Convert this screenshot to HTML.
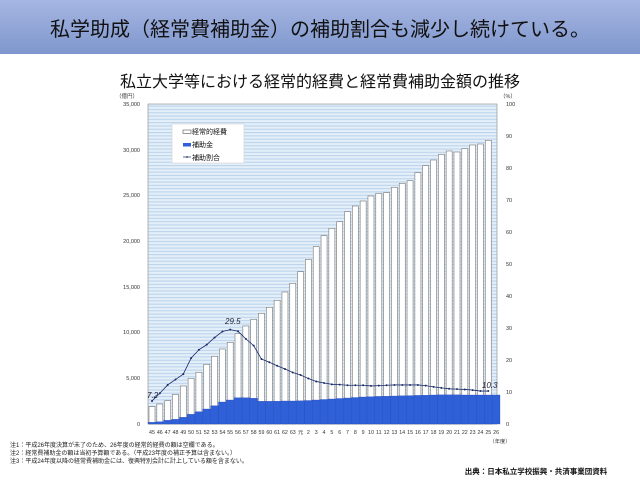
<!DOCTYPE html>
<html><head><meta charset="utf-8"><style>
html,body{margin:0;padding:0;background:#fff;width:640px;height:480px;overflow:hidden}
body{font-family:"Liberation Sans","Noto Sans CJK JP",sans-serif}
</style></head><body>
<svg id="s" width="640" height="480" xmlns="http://www.w3.org/2000/svg" font-family="Liberation Sans, Noto Sans CJK JP, sans-serif">
<defs>
<linearGradient id="hg" x1="0" y1="0" x2="0" y2="1"><stop offset="0" stop-color="#a6b6e2"/><stop offset="1" stop-color="#7f97cd"/></linearGradient>
<pattern id="st" width="10" height="3.3" patternUnits="userSpaceOnUse"><rect width="10" height="3.3" fill="#e4eff9"/><rect y="0" width="10" height="1.1" fill="#bcd4ec"/></pattern>
</defs>
<rect x="0" y="0" width="640" height="54" fill="url(#hg)"/>
<text x="320" y="36" font-size="20" text-anchor="middle" fill="#111">私学助成（経常費補助金）の補助割合も減少し続けている。</text>
<text x="320" y="87" font-size="16" text-anchor="middle" fill="#111">私立大学等における経常的経費と経常費補助金額の推移</text>
<rect x="148" y="104" width="349" height="320" fill="url(#st)" stroke="#888" stroke-width="0.6"/>
<g id="bars"></g>
<g font-size="5.5" fill="#333" text-anchor="end">
<text x="140" y="106">35,000</text><text x="140" y="152">30,000</text><text x="140" y="197">25,000</text><text x="140" y="243">20,000</text><text x="140" y="289">15,000</text><text x="140" y="334">10,000</text><text x="140" y="380">5,000</text><text x="140" y="426">0</text>
<text x="138" y="98">（億円）</text>
</g>
<g font-size="5.5" fill="#333">
<text x="506" y="106">100</text><text x="506" y="138">90</text><text x="506" y="170">80</text><text x="506" y="202">70</text><text x="506" y="234">60</text><text x="506" y="266">50</text><text x="506" y="298">40</text><text x="506" y="330">30</text><text x="506" y="362">20</text><text x="506" y="394">10</text><text x="506" y="426">0</text>
<text x="500" y="98">（%）</text>
</g>
<g font-size="5.3" fill="#333" text-anchor="middle">
<text x="152" y="434">45</text><text x="159.8" y="434">46</text><text x="167.6" y="434">47</text><text x="175.5" y="434">48</text><text x="183.3" y="434">49</text><text x="191.1" y="434">50</text><text x="198.9" y="434">51</text><text x="206.7" y="434">52</text><text x="214.6" y="434">53</text><text x="222.4" y="434">54</text><text x="230.2" y="434">55</text><text x="238" y="434">56</text><text x="245.8" y="434">57</text><text x="253.7" y="434">58</text><text x="261.5" y="434">59</text><text x="269.3" y="434">60</text><text x="277.1" y="434">61</text><text x="284.9" y="434">62</text><text x="292.8" y="434">63</text><text x="300.6" y="434">元</text><text x="308.4" y="434">2</text><text x="316.2" y="434">3</text><text x="324" y="434">4</text><text x="331.9" y="434">5</text><text x="339.7" y="434">6</text><text x="347.5" y="434">7</text><text x="355.3" y="434">8</text><text x="363.1" y="434">9</text><text x="371" y="434">10</text><text x="378.8" y="434">11</text><text x="386.6" y="434">12</text><text x="394.4" y="434">13</text><text x="402.2" y="434">14</text><text x="410.1" y="434">15</text><text x="417.9" y="434">16</text><text x="425.7" y="434">17</text><text x="433.5" y="434">18</text><text x="441.3" y="434">19</text><text x="449.2" y="434">20</text><text x="457" y="434">21</text><text x="464.8" y="434">22</text><text x="472.6" y="434">23</text><text x="480.4" y="434">24</text><text x="488.3" y="434">25</text><text x="496.1" y="434">26</text>
<text x="500" y="443">（年度）</text>
</g>
<g font-size="8" fill="#223" font-style="italic">
<text x="147" y="398">7.2</text><text x="225" y="324">29.5</text><text x="482" y="388">10.3</text>
</g>
<rect x="172" y="124" width="72" height="39" fill="#fff" stroke="#ccc" stroke-width="0.5"/>
<rect x="183" y="130" width="8" height="3.5" fill="#fff" stroke="#555" stroke-width="0.6"/>
<rect x="183" y="143" width="8" height="3.5" fill="#3060d8"/>
<line x1="183" y1="157" x2="191" y2="157" stroke="#1a2b6a" stroke-width="0.7"/><circle cx="187" cy="157" r="0.9" fill="#1a2b6a"/>
<g font-size="7" fill="#111"><text x="192" y="134">経常的経費</text><text x="192" y="147">補助金</text><text x="192" y="160">補助割合</text></g>
<g font-size="6" fill="#222">
<text x="10" y="447">注1：平成26年度決算が未了のため、26年度の経常的経費の額は空欄である。</text>
<text x="10" y="455">注2：経常費補助金の額は当初予算額である。（平成23年度の補正予算は含まない。）</text>
<text x="10" y="463">注3：平成24年度以降の経常費補助金には、復興特別会計に計上している額を含まない。</text>
</g>
<text x="536" y="474" font-size="7.5" font-weight="bold" fill="#111" text-anchor="middle">出典：日本私立学校振興・共済事業団資料</text>
</svg>
<script>
var tops=[406.7,404,400.7,394.3,386,378.3,372.3,364.3,356.3,349,342.3,333.7,326,319.3,313.3,307.3,300.3,292,283.3,271.7,259.3,246.7,235.7,228.3,221.7,211.7,206,201,196,193.3,192.7,187.3,183.3,180.7,172.7,165.7,160,154.3,151,152,148.7,145,144,140.3];
var bl=[422.3,421.7,420.3,419.3,417.3,414.3,411.7,409,405.7,402,400,397.7,397.7,398.3,401.3,401.3,401.2,401,401,400.8,400.5,400,399.5,399,398.5,398,397.5,397,396.7,396.4,396.2,396,395.8,395.6,395.4,395.2,395,394.8,394.8,394.8,395,395,395,395,395];
var pct=[7.2,9.6,12.2,13.9,15.6,20.6,23.2,24.8,27.0,28.9,29.5,29.0,26.6,24.5,20.3,19.3,18.2,17.2,16.1,15.3,14.2,13.3,12.8,12.4,12.3,12.1,12.1,12.1,11.9,12.0,12.1,12.2,12.2,12.2,12.2,12.0,11.6,11.3,11.0,10.9,10.8,10.6,10.3,10.3];
var g=document.getElementById('bars'),h='';
for(var i=0;i<45;i++){var cx=152+i*7.82;
if(i<44)h+='<rect x="'+(cx-3)+'" y="'+tops[i]+'" width="6" height="'+(424-tops[i])+'" fill="#fff" stroke="#777" stroke-width="0.6"/>';
h+='<rect x="'+(cx-3.9)+'" y="'+bl[i]+'" width="7.82" height="'+(424-bl[i])+'" fill="#3060d8" stroke="#2448b0" stroke-width="0.3"/>';}
var pts=[];for(var i=0;i<pct.length;i++){var x=152+i*7.82,y=424-pct[i]*3.2;pts.push(x+','+y);h+='<circle cx="'+x+'" cy="'+y+'" r="1" fill="#1a2b6a"/>';}
h+='<polyline points="'+pts.join(' ')+'" fill="none" stroke="#1a2b6a" stroke-width="0.8"/>';
g.innerHTML=h;
</script>
</body></html>
